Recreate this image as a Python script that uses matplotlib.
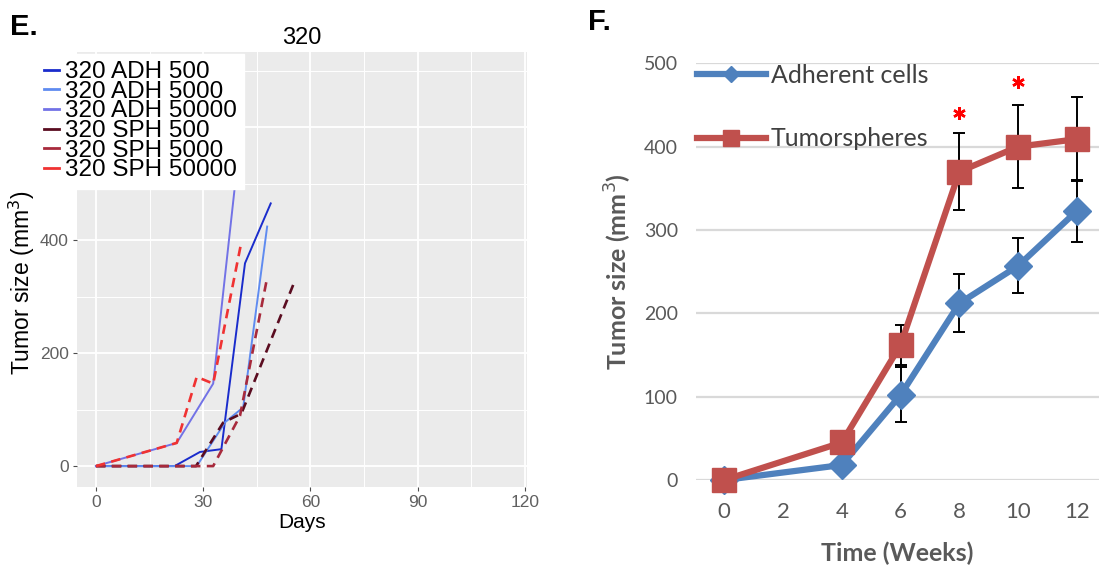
import matplotlib
matplotlib.use('Agg')
import matplotlib.pyplot as plt
from matplotlib.lines import Line2D

# ---------------- Panel E data ----------------
adh500_days = [0, 22, 29.1, 35.1, 41.7, 48.9]
adh500_vals = [0, 0, 25, 30, 359, 465]
adh5000_days = [0, 28.2, 36.2, 41.2, 47.9]
adh5000_vals = [0, 0, 78, 104, 424]
adh50000_days = [0, 22.6, 32.8, 38.9, 39.9]
adh50000_vals = [0, 41, 146, 497, 700]
sph500_days = [0, 28, 35.6, 40.7, 55.2]
sph500_vals = [0, 0, 77, 93, 321]
sph5000_days = [0, 32.8, 40.3, 47.7]
sph5000_vals = [0, 0, 89, 327]
sph50000_days = [0, 22.6, 28.2, 32.8, 40.7]
sph50000_vals = [0, 41, 158, 146, 397]
e_labels = ['320 ADH 500', '320 ADH 5000', '320 ADH 50000',
            '320 SPH 500', '320 SPH 5000', '320 SPH 50000']
e_xticks = [0, 30, 60, 90, 120]
e_yticks = [0, 200, 400, 600]

# ---------------- Panel F data ----------------
weeks = [0, 4, 6, 8, 10, 12]
adherent = [0, 18, 102, 212, 257, 323]
adherent_err = [0, 8, 33, 35, 33, 37]
spheres = [0, 45, 162, 370, 400, 409]
spheres_err = [0, 11, 24, 46, 50, 50]
star_weeks = [8, 10]
star_y = [440, 478]
f_xticks = [0, 2, 4, 6, 8, 10, 12]
f_yticks = [0, 100, 200, 300, 400, 500]

W, H = 1099, 567
fig = plt.figure(figsize=(W / 100, H / 100), dpi=100)
fig.patch.set_facecolor('white')

def fx(px):
    return px / W

def fy(py):
    return 1 - py / H

# ================= Panel E (ggplot style) =================
ARIAL = ['Liberation Sans', 'DejaVu Sans']
axE = fig.add_axes([fx(77), fy(487), (527 - 77) / W, (487 - 52) / H])
axE.set_facecolor('#EBEBEB')
axE.set_xlim(-5.3, 120.6)
axE.set_ylim(-37, 733)
axE.set_xticks(e_xticks)
axE.set_yticks(e_yticks)
axE.set_xticks([15, 45, 75, 105], minor=True)
axE.set_yticks([100, 300, 500, 700], minor=True)
axE.grid(which='major', color='white', lw=1.3)
axE.grid(which='minor', color='white', lw=0.7)
axE.set_axisbelow(True)
for s in axE.spines.values():
    s.set_visible(False)
axE.tick_params(which='major', length=3, width=0.8, color='#4D4D4D',
                labelcolor='#606060', labelsize=12.5, pad=3)
axE.tick_params(which='minor', length=0)
for lab in axE.get_xticklabels() + axE.get_yticklabels():
    lab.set_family(ARIAL)

solid_lw = 1.4
dash_lw = 1.9
dash = (0, (3.6, 2.4))
lines_e = []
lines_e += axE.plot(adh500_days, adh500_vals, color='#1a2ccc', lw=solid_lw)
lines_e += axE.plot(adh5000_days, adh5000_vals, color='#5f8bf0', lw=solid_lw)
lines_e += axE.plot(adh50000_days, adh50000_vals, color='#7272e6', lw=solid_lw)
lines_e += axE.plot(sph500_days, sph500_vals, color='#5a0c20', lw=dash_lw, ls=dash)
lines_e += axE.plot(sph5000_days, sph5000_vals, color='#a82a3c', lw=dash_lw, ls=dash)
lines_e += axE.plot(sph50000_days, sph50000_vals, color='#f03232', lw=dash_lw, ls=dash)

axE.set_xlabel('Days', family=ARIAL, fontsize=15, color='black', labelpad=2)
axE.set_ylabel('Tumor size (mm$^3$)', family=ARIAL, fontsize=16.5, color='black')
axE.yaxis.set_label_coords(-0.088, 0.47)
axE.set_title('320', family=ARIAL, fontsize=17, color='black', pad=6)

handles_e = [Line2D([], [], color=l.get_color(), lw=2.0) for l in lines_e]
legE = fig.legend(handles_e, e_labels, loc='upper left',
                  bbox_to_anchor=(fx(37), fy(54)), bbox_transform=fig.transFigure,
                  prop={'family': ARIAL, 'size': 17.5}, frameon=True,
                  facecolor='white', edgecolor='white', framealpha=1,
                  fancybox=False, borderpad=0.3, borderaxespad=0,
                  labelspacing=-0.1, handlelength=0.6, handletextpad=0.25)
legE.set_zorder(10)

fig.text(fx(10), fy(27), 'E.', fontsize=21, fontweight='bold', family=ARIAL,
         va='center', ha='left')

# ================= Panel F (Excel style) =================
LATO = ['Lato', 'DejaVu Sans']
BLUE = '#4F81BD'
RED = '#C0504D'
GRAY = '#595959'
axF = fig.add_axes([fx(696), fy(480), (W - 696) / W, (480 - 63.3) / H])
axF.set_xlim(-0.96, 12.75)
axF.set_ylim(0, 500)
axF.set_xticks(f_xticks)
axF.set_yticks(f_yticks)
axF.yaxis.grid(True, color='#D9D9D9', lw=1.6)
axF.set_axisbelow(True)
for s in axF.spines.values():
    s.set_visible(False)
axF.tick_params(axis='both', length=0, labelcolor=GRAY)
axF.tick_params(axis='y', labelsize=14, pad=13)
axF.tick_params(axis='x', labelsize=16, pad=16)
for lab in axF.get_xticklabels() + axF.get_yticklabels():
    lab.set_family(LATO)

axF.errorbar(weeks, adherent, yerr=adherent_err, fmt='none', ecolor='black',
             elinewidth=1.4, capsize=4.5, capthick=1.4, zorder=2, clip_on=False)
axF.plot(weeks, adherent, color=BLUE, lw=4.5, marker='D', ms=14.5,
         zorder=3, clip_on=False)
axF.errorbar(weeks, spheres, yerr=spheres_err, fmt='none', ecolor='black',
             elinewidth=1.4, capsize=4.5, capthick=1.4, zorder=4, clip_on=False)
axF.plot(weeks, spheres, color=RED, lw=4.5, marker='s', ms=17.5,
         zorder=5, clip_on=False)
axF.plot(star_weeks, star_y, ls='none', marker=(6, 2, 0), ms=9, mew=1.8,
         color='red', zorder=6)

axF.set_xlabel('Time (Weeks)', family=LATO, fontsize=18, fontweight='bold',
               color=GRAY, labelpad=14)
axF.set_ylabel('Tumor size (mm$^3$)', family=LATO, fontsize=18, fontweight='bold',
               color=GRAY)
axF.yaxis.set_label_coords(-0.155, 0.5)

handles_f = [Line2D([], [], color=BLUE, lw=4.5, marker='D', ms=8),
             Line2D([], [], color=RED, lw=4.5, marker='s', ms=11)]
axF.legend(handles_f, ['Adherent cells', 'Tumorspheres'], loc='upper left',
           bbox_to_anchor=(fx(697), fy(64)), bbox_transform=fig.transFigure,
           prop={'family': LATO, 'size': 18}, labelcolor='#404040', frameon=False,
           borderpad=0, borderaxespad=0, handlelength=2.75, handletextpad=0.2,
           labelspacing=1.62)

fig.text(fx(588), fy(22), 'F.', fontsize=21, fontweight='bold', family=ARIAL,
         va='center', ha='left')

fig.savefig('out.png', dpi=100, facecolor='white')
